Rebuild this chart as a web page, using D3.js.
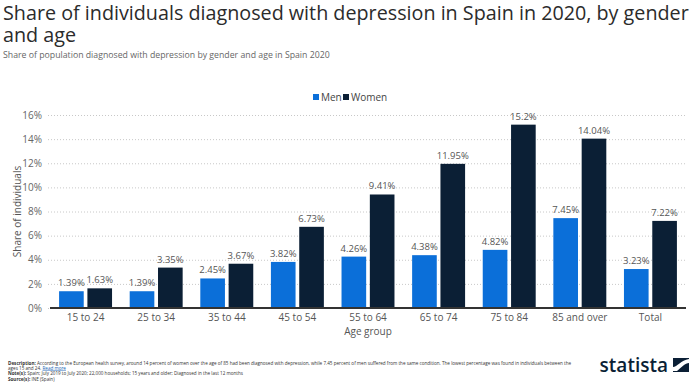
<!DOCTYPE html>
<html><head><meta charset="utf-8">
<script src="https://cdn.jsdelivr.net/npm/d3@7"></script>
<style>
html,body{margin:0;padding:0;background:#fff;}
svg{display:block;font-family:"Open Sans",sans-serif;}
</style></head>
<body><svg id="c" width="700" height="386"></svg>
<script>
const categories = ["15 to 24","25 to 34","35 to 44","45 to 54","55 to 64","65 to 74","75 to 84","85 and over","Total"];
const seriesNames = ["Men","Women"];
const menValues = [1.39,1.39,2.45,3.82,4.26,4.38,4.82,7.45,3.23];
const womenValues = [1.63,3.35,3.67,6.73,9.41,11.95,15.2,14.04,7.22];
const yTicks = [0,2,4,6,8,10,12,14,16];
const colors = {Men:"#0b6fd9", Women:"#0b1f35"};

const svg = d3.select("#c");

function fitText(sel, width){
  const n = sel.node();
  const fs = parseFloat(sel.attr("font-size"));
  const w = n.getComputedTextLength();
  sel.attr("font-size", (fs*width/w).toFixed(2));
}

// Title
const t1 = svg.append("text").attr("x",3).attr("y",20).attr("font-size",20).attr("fill","#2b2b2b")
  .text("Share of individuals diagnosed with depression in Spain in 2020, by gender");
fitText(t1, 686);
svg.append("text").attr("x",3).attr("y",42).attr("font-size",t1.attr("font-size")).attr("fill","#2b2b2b").text("and age");
fitText(svg.append("text").attr("x",3).attr("y",58).attr("font-size",9).attr("fill","#666")
  .text("Share of population diagnosed with depression by gender and age in Spain 2020"), 327);

const m = {left:48, right:688, top:115, bottom:308};
const y = d3.scaleLinear().domain([0,16]).range([m.bottom, m.top]);
const x0 = d3.scaleBand().domain(categories).range([m.left, m.right]).paddingInner(0.25).paddingOuter(0.157);
const x1 = d3.scaleBand().domain(seriesNames).range([0, x0.bandwidth()]).paddingInner(0.13);

// grid
const yAxis = d3.axisLeft(y).tickValues(yTicks).tickFormat(d=>d+"%").tickSize(-(m.right-m.left-3));
const ga = svg.append("g").attr("transform",`translate(${m.left},0)`).call(yAxis);
ga.select(".domain").remove();
ga.selectAll(".tick line").attr("stroke","#c8c8c8").attr("stroke-dasharray","1,2").attr("stroke-width",1);
ga.selectAll(".tick text").attr("x",-6).attr("fill","#666").attr("font-size",10).attr("font-family","Open Sans");

// bars
const data = categories.map((c,i)=>({cat:c, vals:[{k:"Men",v:menValues[i]},{k:"Women",v:womenValues[i]}]}));
const g = svg.append("g").selectAll("g").data(data).join("g").attr("transform",d=>`translate(${x0(d.cat)},0)`);
g.selectAll("rect").data(d=>d.vals).join("rect")
  .attr("x",d=>x1(d.k)).attr("width",x1.bandwidth())
  .attr("y",d=>y(d.v)).attr("height",d=>y(0)-y(d.v)).attr("fill",d=>colors[d.k]);
g.selectAll("text.v").data(d=>d.vals).join("text").attr("class","v")
  .attr("x",d=>x1(d.k)+x1.bandwidth()/2).attr("y",d=>y(d.v)-5)
  .attr("text-anchor","middle").attr("font-size",9.5).attr("fill","#555").text(d=>d.v+"%");

// x axis
const xa = svg.append("g").attr("transform",`translate(0,${m.bottom})`).call(d3.axisBottom(x0).tickSize(0).tickPadding(6));
xa.select(".domain").attr("stroke","#333").attr("stroke-width",2).attr("d",`M${m.left+2},0H${m.right-2}`);
xa.selectAll(".tick text").attr("fill","#555").attr("font-size",10).attr("font-family","Open Sans");

svg.append("text").attr("x",(m.left+m.right)/2).attr("y",335).attr("text-anchor","middle")
  .attr("font-size",10).attr("fill","#555").text("Age group");
svg.append("text").attr("transform",`translate(21,${(m.top+m.bottom)/2}) rotate(-90)`).attr("text-anchor","middle")
  .attr("font-size",10).attr("fill","#555").text("Share of individuals");

// legend
const leg = svg.append("g");
const legItems = [{k:"Men",x:313},{k:"Women",x:343}];
legItems.forEach(it=>{
  leg.append("rect").attr("x",it.x).attr("y",94).attr("width",6).attr("height",6).attr("fill",colors[it.k]);
  leg.append("text").attr("x",it.x+8).attr("y",100.5).attr("font-size",10).attr("fill","#444").text(it.k);
});

// footer
const f = svg.append("g").attr("font-size",4.6).attr("fill","#333");
function fl(yy, bold, rest){
  const t = f.append("text").attr("x",8).attr("y",yy);
  if(bold) t.append("tspan").attr("font-weight","bold").text(bold);
  t.append("tspan").text(rest);
  return t;
}
fl(364.5,"Description: ","According to the European health survey, around 14 percent of women over the age of 85 had been diagnosed with depression, while 7.45 percent of men suffered from the same condition. The lowest percentage was found in individuals between the");
const l2 = f.append("text").attr("x",8).attr("y",369.5);
l2.append("tspan").text("ages 15 and 24. ");
l2.append("tspan").attr("fill","#1a5fb4").attr("text-decoration","underline").text("Read more");
fl(375,"Note(s): ","Spain; July 2019 to July 2020; 22,000 households; 15 years and older; Diagnosed in the last 12 months");
fl(380.5,"Source(s): ","INE (Spain)");

// logo
svg.append("text").attr("x",668).attr("y",372).attr("text-anchor","end").attr("font-size",19)
  .attr("font-weight","600").attr("fill","#0b1f35").attr("font-family","Open Sans").text("statista");
const lg = svg.append("g").attr("transform","translate(673,358)");
lg.append("rect").attr("width",16).attr("height",14).attr("fill","#0b1f35");
lg.append("path").attr("d","M16,1 L16,5 C12,5 9,9 4,13 L0,13 L0,9 C4,9 8,2 16,1 Z").attr("fill","#fff");
</script></body></html>
